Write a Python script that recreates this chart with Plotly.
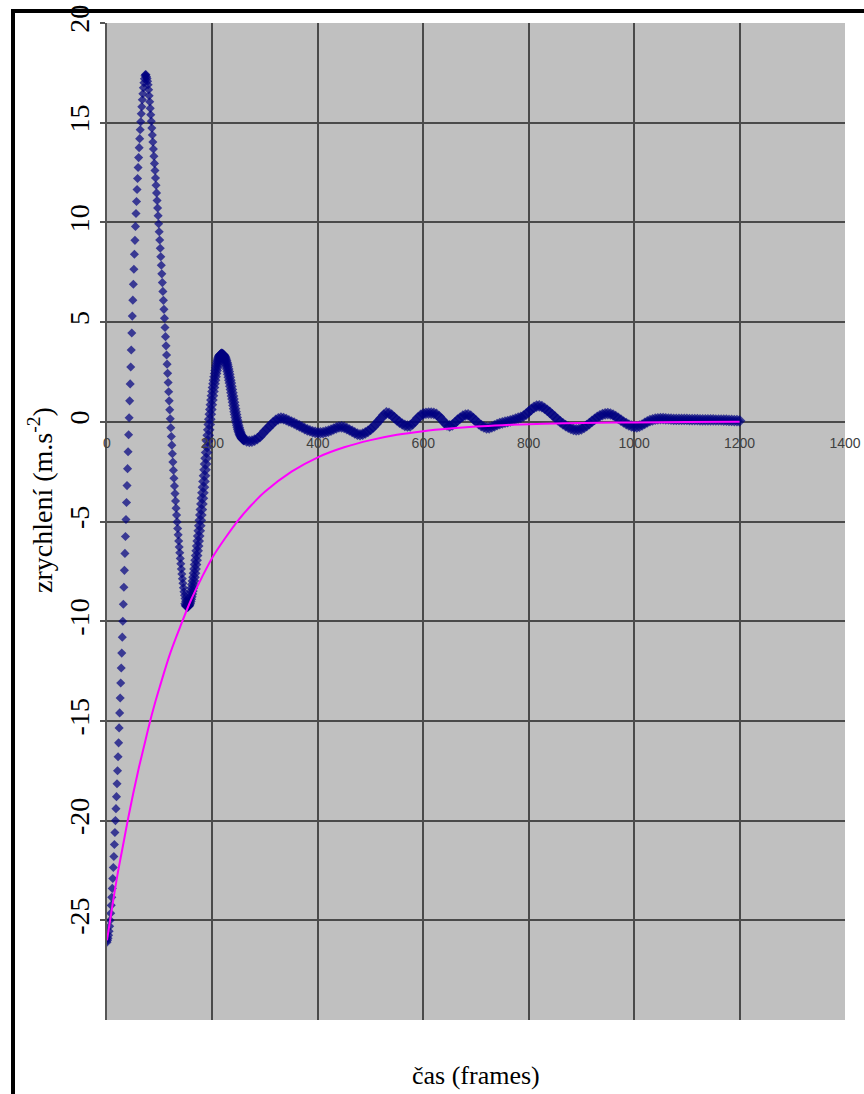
import plotly.graph_objects as go

# ---------------- data ----------------
# measured acceleration, one sample per frame for frames 0..260
frames_dense = list(range(0, 261))
accel_dense = [
    -26.1, -26.0, -25.9, -25.75, -25.55, -25.3, -25.0, -24.65, -24.25, -23.85,
    -23.4, -22.9, -22.35, -21.8, -21.2, -20.6, -20.0, -19.4, -18.8, -18.15,
    -17.5, -16.8, -16.1, -15.35, -14.6, -13.85, -13.1, -12.35, -11.6, -10.8,
    -10.0, -9.15, -8.3, -7.45, -6.6, -5.75, -4.9, -4.05, -3.2, -2.35,
    -1.5, -0.65, 0.2, 1.05, 1.9, 2.75, 3.6, 4.45, 5.3, 6.1,
    6.9, 7.65, 8.4, 9.1, 9.8, 10.45, 11.05, 11.65, 12.2, 12.75,
    13.25, 13.75, 14.2, 14.65, 15.05, 15.45, 15.8, 16.15, 16.45, 16.75,
    17.0, 17.2, 17.35, 17.42, 17.4, 17.3, 17.22, 17.08, 16.9, 16.65,
    16.35, 16.05, 15.72, 15.4, 15.07, 14.73, 14.38, 14.03, 13.68, 13.32,
    12.96, 12.6, 12.23, 11.86, 11.48, 11.1, 10.72, 10.33, 9.93, 9.53,
    9.12, 8.7, 8.28, 7.85, 7.42, 6.98, 6.54, 6.09, 5.64, 5.19,
    4.73, 4.27, 3.81, 3.35, 2.89, 2.43, 1.97, 1.51, 1.05, 0.6,
    0.15, -0.3, -0.74, -1.17, -1.6, -2.02, -2.43, -2.83, -3.22, -3.6,
    -3.97, -4.33, -4.68, -5.02, -5.35, -5.67, -5.98, -6.28, -6.57, -6.85,
    -7.12, -7.38, -7.63, -7.87, -8.1, -8.32, -8.52, -8.7, -8.86, -9.0,
    -9.12, -9.2, -9.25, -9.25, -9.22, -9.17, -9.1, -9.01, -8.9, -8.78,
    -8.64, -8.49, -8.33, -8.16, -7.98, -7.79, -7.59, -7.38, -7.16, -6.94,
    -6.71, -6.47, -6.23, -5.98, -5.73, -5.47, -5.21, -4.94, -4.67, -4.4,
    -4.12, -3.84, -3.56, -3.28, -2.99, -2.7, -2.41, -2.12, -1.83, -1.54,
    -1.25, -0.96, -0.68, -0.4, -0.13, 0.13, 0.38, 0.62, 0.86, 1.09,
    1.31, 1.52, 1.72, 1.91, 2.09, 2.26, 2.42, 2.57, 2.71, 2.84,
    2.96, 3.06, 3.15, 3.23, 3.29, 3.33, 3.36, 3.38, 3.38, 3.37,
    3.35, 3.32, 3.28, 3.22, 3.15, 3.07, 2.98, 2.88, 2.77, 2.65,
    2.52, 2.38, 2.24, 2.09, 1.94, 1.78, 1.62, 1.46, 1.3, 1.14,
    0.98, 0.82, 0.66, 0.51, 0.36, 0.22, 0.08, -0.05, -0.17, -0.28,
    -0.38, -0.47, -0.55, -0.62, -0.68, -0.73, -0.78, -0.82, -0.85, -0.88,
    -0.9,
]

# measured acceleration, frames 265..1200 every 5 frames
frames_tail = list(range(265, 1201, 5))
accel_tail = [
    -0.96, -0.98, -0.97, -0.92, -0.85, -0.75, -0.6, -0.45, -0.32, -0.18,
    -0.05, 0.07, 0.15, 0.18, 0.16, 0.11, 0.05, -0.01, -0.07, -0.14,
    -0.2, -0.27, -0.34, -0.4, -0.45, -0.5, -0.53, -0.55, -0.55, -0.54,
    -0.51, -0.47, -0.42, -0.36, -0.3, -0.26, -0.25, -0.28, -0.34, -0.41,
    -0.48, -0.56, -0.62, -0.65, -0.62, -0.56, -0.48, -0.38, -0.26, -0.12,
    0.03, 0.18, 0.34, 0.45, 0.42, 0.33, 0.21, 0.09, -0.02, -0.11,
    -0.18, -0.21, -0.2, -0.1, 0.05, 0.2, 0.32, 0.4, 0.43, 0.44,
    0.44, 0.42, 0.37, 0.26, 0.12, -0.04, -0.16, -0.2, -0.16, -0.05,
    0.08, 0.19, 0.28, 0.34, 0.35, 0.28, 0.16, 0.03, -0.09, -0.19,
    -0.26, -0.3, -0.3, -0.26, -0.2, -0.14, -0.09, -0.05, -0.02, 0.01,
    0.05, 0.09, 0.13, 0.18, 0.22, 0.28, 0.38, 0.5, 0.62, 0.72,
    0.79, 0.8, 0.76, 0.68, 0.58, 0.47, 0.35, 0.23, 0.11, 0.0,
    -0.1, -0.19, -0.27, -0.33, -0.38, -0.4, -0.39, -0.35, -0.28, -0.19,
    -0.09, 0.02, 0.12, 0.22, 0.3, 0.36, 0.4, 0.41, 0.39, 0.34,
    0.26, 0.17, 0.08, -0.01, -0.09, -0.16, -0.21, -0.24, -0.25, -0.22,
    -0.16, -0.08, 0.0, 0.06, 0.1, 0.13, 0.15, 0.16, 0.16, 0.15,
    0.14, 0.13, 0.12, 0.12, 0.12, 0.12, 0.12, 0.12, 0.11, 0.11,
    0.11, 0.11, 0.1, 0.1, 0.1, 0.1, 0.1, 0.1, 0.09, 0.09,
    0.09, 0.08, 0.08, 0.07, 0.07, 0.06, 0.06, 0.05,
]

# fitted envelope (magenta curve)
fit_frames = [0, 10, 20, 30, 40, 50, 60, 70, 80, 90, 100, 120, 140, 160, 180,
              200, 225, 250, 275, 300, 350, 400, 450, 500, 550, 600, 650, 700,
              750, 800, 850, 900, 1000, 1100, 1200]
fit_values = [-26.0, -24.3, -22.7, -21.3, -19.9, -18.6, -17.4, -16.3, -15.2,
              -14.2, -13.3, -11.6, -10.2, -8.9, -7.8, -6.8, -5.8, -4.9, -4.15,
              -3.5, -2.5, -1.78, -1.28, -0.92, -0.65, -0.47, -0.34, -0.24,
              -0.17, -0.12, -0.08, -0.06, -0.03, -0.01, 0.0]

x_ticks = [0, 200, 400, 600, 800, 1000, 1200, 1400]
y_ticks = [-25, -20, -15, -10, -5, 0, 5, 10, 15, 20]

assert len(frames_dense) == len(accel_dense)
assert len(frames_tail) == len(accel_tail)
assert len(fit_frames) == len(fit_values)

frames = frames_dense + frames_tail
accel = accel_dense + accel_tail
# sparse, separated dots early on; denser, thicker band later
marker_sizes = [7 if f < 150 else 9 for f in frames]

# ---------------- figure ----------------
W, H = 864, 1094
L, R, T, B = 107, 19, 23, 74
pw, ph = W - L - R, H - T - B


def px_to_paper_x(px):
    return (px - L) / pw


def px_to_paper_y(py):
    return (H - B - py) / ph


fig = go.Figure()
fig.add_trace(go.Scatter(
    x=frames, y=accel, mode='markers',
    marker=dict(symbol='diamond', size=marker_sizes, color='#000080', line=dict(width=0)),
    hoverinfo='skip'))
fig.add_trace(go.Scatter(
    x=fit_frames, y=fit_values, mode='lines',
    line=dict(color='#ff00ff', width=2, shape='spline'),
    hoverinfo='skip'))

grid = '#4a4a4a'
fig.update_layout(
    width=W, height=H,
    margin=dict(l=L, r=R, t=T, b=B, autoexpand=False),
    paper_bgcolor='white', plot_bgcolor='#c0c0c0',
    showlegend=False,
    xaxis=dict(
        range=[0, 1400], tickvals=x_ticks, ticktext=[str(v) for v in x_ticks],
        showgrid=True, gridcolor=grid, gridwidth=2,
        zeroline=False, showline=False, ticks='',
        anchor='free', position=0.6, automargin=False,
        ticklabelstandoff=11,
        tickfont=dict(family='Liberation Sans, Arial', size=14, color='#404040'),
    ),
    yaxis=dict(
        range=[-30, 20], tickvals=y_ticks, ticktext=[str(v) for v in y_ticks],
        tickangle=-90, automargin=False,
        showgrid=True, gridcolor=grid, gridwidth=2,
        zeroline=False, showline=True, linecolor='#555555', linewidth=2,
        ticks='outside', ticklen=5, tickcolor='#555555', tickwidth=2,
        tickfont=dict(family='Liberation Serif, Times New Roman', size=28, color='black'),
    ),
    annotations=[
        dict(text='zrychlení (m.s<sup>-2</sup>)', xref='paper', yref='paper',
             x=px_to_paper_x(40), y=px_to_paper_y(500), xanchor='center', yanchor='middle',
             textangle=-90, showarrow=False,
             font=dict(family='Liberation Serif, Times New Roman', size=28, color='black')),
        dict(text='čas (frames)', xref='paper', yref='paper',
             x=0.5, y=px_to_paper_y(1075), xanchor='center', yanchor='middle',
             showarrow=False,
             font=dict(family='Liberation Serif, Times New Roman', size=26, color='black')),
    ],
    shapes=[
        dict(type='rect', xref='paper', yref='paper',
             x0=px_to_paper_x(13), y0=px_to_paper_y(11),
             x1=px_to_paper_x(900), y1=px_to_paper_y(1130),
             line=dict(color='black', width=4), fillcolor='rgba(0,0,0,0)'),
    ],
)

fig.write_html('out.html')
